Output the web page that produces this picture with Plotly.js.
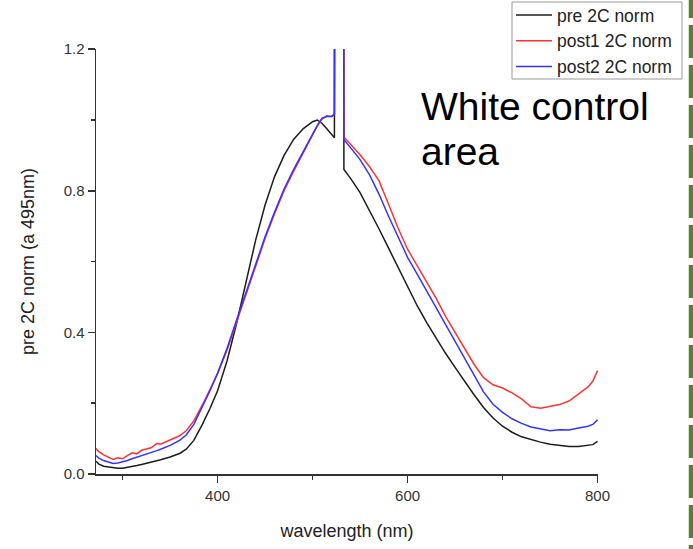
<!DOCTYPE html>
<html>
<head>
<meta charset="utf-8">
<script src="https://cdn.plot.ly/plotly-3.0.1.min.js"></script>
<style>html,body{margin:0;padding:0;background:#fff;}#chart{width:693px;height:549px;}</style>
</head>
<body>
<div id="chart"></div>
<script>
var wavelength = [272,275,280,286,290,295,300,305,310,315,320,330,336,340,350,360,367,375,384,392,400,410,420,430,440,450,460,470,480,490,500,505,510,515,520,523,524,532,533,540,550,560,570,580,590,600,610,620,630,640,650,660,670,680,690,700,710,720,730,740,750,760,770,780,790,795,800];

var pre2C = [0.036,0.028,0.022,0.019,0.017,0.016,0.016,0.018,0.021,0.024,0.027,0.033,0.037,0.040,0.048,0.058,0.070,0.095,0.140,0.185,0.235,0.320,0.425,0.545,0.660,0.760,0.840,0.900,0.945,0.975,0.995,1.000,0.990,0.975,0.960,0.950,3.0,3.0,0.860,0.835,0.795,0.745,0.692,0.638,0.583,0.528,0.476,0.428,0.383,0.341,0.301,0.262,0.224,0.188,0.158,0.135,0.118,0.105,0.097,0.090,0.084,0.080,0.078,0.078,0.080,0.083,0.092];

var post1_2C = [0.072,0.063,0.054,0.046,0.041,0.046,0.043,0.052,0.060,0.057,0.067,0.074,0.086,0.084,0.096,0.108,0.122,0.150,0.195,0.238,0.283,0.350,0.430,0.510,0.590,0.665,0.735,0.800,0.855,0.905,0.955,0.983,1.003,1.012,1.010,1.018,3.0,3.0,0.952,0.932,0.902,0.868,0.828,0.762,0.695,0.635,0.588,0.542,0.497,0.445,0.400,0.355,0.310,0.272,0.252,0.243,0.229,0.212,0.190,0.186,0.191,0.196,0.206,0.226,0.246,0.262,0.292];

var post2_2C = [0.052,0.045,0.038,0.032,0.030,0.031,0.034,0.038,0.043,0.047,0.052,0.060,0.066,0.070,0.081,0.095,0.110,0.140,0.190,0.235,0.285,0.355,0.435,0.515,0.595,0.670,0.740,0.805,0.860,0.910,0.960,0.985,1.005,1.010,1.010,1.015,3.0,3.0,0.945,0.922,0.888,0.845,0.790,0.728,0.668,0.612,0.565,0.518,0.470,0.423,0.376,0.330,0.282,0.232,0.197,0.174,0.156,0.143,0.133,0.127,0.122,0.125,0.124,0.130,0.135,0.140,0.153];

var seriesNames = ['pre 2C norm', 'post1 2C norm', 'post2 2C norm'];
var seriesColors = ['#1c1c1c', '#ff3333', '#3333ff'];
var seriesValues = [pre2C, post1_2C, post2_2C];

var traces = seriesValues.map(function (vals, i) {
  return {
    x: wavelength, y: vals, type: 'scatter', mode: 'lines',
    name: seriesNames[i], legendgroup: 'g' + i,
    line: {color: seriesColors[i], width: 1.5}
  };
});

var axisColor = '#333333';
function px2x(p) { return (p - 96) / 502; }
function px2y(p) { return (474 - p) / 425; }

var layout = {
  width: 693, height: 549,
  margin: {l: 96, r: 95, t: 49, b: 75, autoexpand: false},
  paper_bgcolor: '#ffffff', plot_bgcolor: '#ffffff',
  font: {family: 'Liberation Sans, Arial, sans-serif', color: '#333333'},
  showlegend: true,
  legend: {
    x: px2x(511), y: px2y(-3), xanchor: 'left', yanchor: 'top',
    borderwidth: 0, bgcolor: 'rgba(0,0,0,0)',
    font: {size: 17.5, color: '#222222'}, tracegroupgap: 0, itemwidth: 36
  },
  xaxis: {
    range: [272, 800.5], tick0: 0, dtick: 200,
    showgrid: false, zeroline: false, showline: true,
    linecolor: axisColor, linewidth: 1.5,
    ticks: 'outside', ticklen: 7, tickwidth: 1.5, tickcolor: axisColor,
    minor: {tick0: 0, dtick: 100, ticks: 'outside', ticklen: 4, tickwidth: 1.5, tickcolor: axisColor, showgrid: false},
    tickfont: {size: 15, color: '#333333'},
    title: {text: 'wavelength (nm)', font: {size: 18, color: '#222222'}, standoff: 22}
  },
  yaxis: {
    range: [0, 1.2005], tick0: 0, dtick: 0.4, tickformat: '.1f',
    showgrid: false, zeroline: false, showline: true,
    linecolor: axisColor, linewidth: 1.5,
    ticks: 'outside', ticklen: 7, tickwidth: 1.5, tickcolor: axisColor,
    minor: {tick0: 0, dtick: 0.2, ticks: 'outside', ticklen: 4, tickwidth: 1.5, tickcolor: axisColor, showgrid: false},
    tickfont: {size: 15, color: '#333333'},
    title: {text: 'pre 2C norm (a 495nm)', font: {size: 18, color: '#222222'}, standoff: 24}
  },
  annotations: [
    {xref: 'paper', yref: 'paper', x: px2x(419), y: px2y(106), xanchor: 'left', yanchor: 'middle',
     text: 'White control', showarrow: false, font: {size: 39, color: '#000000', family: 'Liberation Sans, Arial, sans-serif'}},
    {xref: 'paper', yref: 'paper', x: px2x(419), y: px2y(151), xanchor: 'left', yanchor: 'middle',
     text: 'area', showarrow: false, font: {size: 39, color: '#000000', family: 'Liberation Sans, Arial, sans-serif'}}
  ],
  shapes: [
    {type: 'rect', xref: 'paper', yref: 'paper',
     x0: px2x(512), x1: px2x(682), y0: px2y(79), y1: px2y(2),
     line: {color: '#999999', width: 1}, fillcolor: 'rgba(0,0,0,0)'},
    {type: 'line', xref: 'paper', yref: 'paper',
     x0: px2x(691), x1: px2x(691), y0: px2y(-15), y1: px2y(549),
     line: {color: '#548235', width: 4.5, dash: '33px,7px'}}
  ]
};

Plotly.newPlot('chart', traces, layout, {displayModeBar: false, staticPlot: true});
</script>
</body>
</html>
